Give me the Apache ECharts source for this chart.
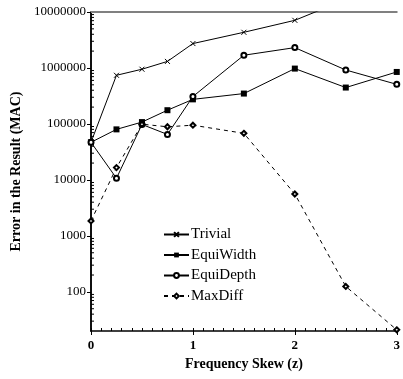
<!DOCTYPE html>
<html>
<head>
<meta charset="utf-8">
<script src="https://cdn.jsdelivr.net/npm/echarts@6/dist/echarts.min.js"></script>
<style>
html,body{margin:0;padding:0;background:#fff;}
#chart{width:403px;height:379px;}
</style>
</head>
<body>
<div id="chart"></div>
<script>
const skew = [0, 0.25, 0.5, 0.75, 1, 1.5, 2, 2.5, 3];
const trivial   = [47000, 740000, 950000, 1310000, 2730000, 4340000, 7100000, 16700000, 30000000];
const equiWidth = [47000, 80000, 108000, 176000, 275000, 349000, 975000, 447000, 849000];
const equiDepth = [47000, 10700, 98000, 65000, 309000, 1690000, 2310000, 920000, 510000];
const maxDiff   = [1850, 16600, 99000, 89000, 95000, 68000, 5600, 125, 21];
const xTicks = [0, 1, 2, 3];
const yMin = 20, yMax = 10000000;
const minorMultipliers = [2, 3, 4, 5, 6, 7, 8, 9];
const decades = [10, 100, 1000, 10000, 100000, 1000000];

const minorVals = [];
decades.forEach(d => minorMultipliers.forEach(m => {
  const v = d * m;
  if (v > yMin && v < yMax) minorVals.push([0, v]);
}));

const font = '"Liberation Serif", "DejaVu Serif", serif';
const pair = arr => skew.map((x, i) => [x, arr[i]]);

const chart = echarts.init(document.getElementById('chart'), null, {renderer: 'canvas'});
chart.setOption({
  animation: false,
  backgroundColor: '#fff',
  textStyle: {fontFamily: font, color: '#000'},
  grid: {left: 91, right: 4, top: 12, bottom: 48},
  legend: {
    data: ['Trivial', 'EquiWidth', 'EquiDepth', 'MaxDiff'],
    orient: 'vertical',
    left: 163, top: 227, padding: 0,
    itemWidth: 25, itemHeight: 6, itemGap: 5.5,
    textStyle: {fontFamily: font, fontSize: 15, color: '#000', padding: [0, 0, 0, -3]}
  },
  xAxis: [{
    type: 'value', min: 0, max: 3, interval: 1,
    name: 'Frequency Skew (z)', nameLocation: 'middle', nameGap: 25,
    nameTextStyle: {fontFamily: font, fontWeight: 'bold', fontSize: 14, color: '#000'},
    axisLine: {lineStyle: {color: '#000', width: 1.5}},
    axisTick: {show: true, length: 4, lineStyle: {color: '#000'}},
    axisLabel: {fontFamily: font, fontWeight: 'bold', fontSize: 13, color: '#000', margin: 8,
      formatter: v => xTicks.includes(v) ? String(v) : ''},
    splitLine: {show: false}
  }, {
    type: 'value', min: 0, max: 3, interval: 0.1, position: 'bottom',
    axisLine: {show: false},
    axisTick: {show: true, inside: true, length: 3, lineStyle: {color: '#000'}},
    axisLabel: {show: false}, splitLine: {show: false}
  }, {
    type: 'value', min: 0, max: 3, position: 'top',
    axisLine: {show: true, lineStyle: {color: '#808080', width: 2}},
    axisTick: {show: false}, axisLabel: {show: false}, splitLine: {show: false}
  }],
  yAxis: [{
    type: 'log', logBase: 10, min: yMin, max: yMax,
    name: 'Error in the Result (MAC)', nameLocation: 'middle', nameGap: 67, nameRotate: 90,
    nameTextStyle: {fontFamily: font, fontWeight: 'bold', fontSize: 14, color: '#000'},
    axisLine: {show: true, lineStyle: {color: '#000', width: 1.5}},
    axisTick: {show: true, length: 4, lineStyle: {color: '#000'}},
    axisLabel: {fontFamily: font, fontSize: 13, color: '#000', margin: 5, showMinLabel: false,
      formatter: v => String(Math.round(v))},
    splitLine: {show: false}
  }, {
    type: 'value', min: 0, max: 1, position: 'right',
    axisLine: {show: true, lineStyle: {color: '#000', width: 1.5}},
    axisTick: {show: false}, axisLabel: {show: false}, splitLine: {show: false}
  }],
  series: [{
    name: 'Trivial', type: 'line', data: pair(trivial), clip: true,
    symbol: 'path://M0,0L10,10M10,0L0,10', symbolSize: 5,
    itemStyle: {color: '#000', borderColor: '#000', borderWidth: 1},
    lineStyle: {color: '#000', width: 1}
  }, {
    name: 'EquiWidth', type: 'line', data: pair(equiWidth), clip: true,
    symbol: 'rect', symbolSize: 6,
    itemStyle: {color: '#000'},
    lineStyle: {color: '#000', width: 1}
  }, {
    name: 'EquiDepth', type: 'line', data: pair(equiDepth), clip: true,
    symbol: 'emptyCircle', symbolSize: 5,
    itemStyle: {color: '#000', borderColor: '#000', borderWidth: 1},
    lineStyle: {color: '#000', width: 1}
  }, {
    name: 'MaxDiff', type: 'line', data: pair(maxDiff), clip: true,
    symbol: 'emptyDiamond', symbolSize: 5,
    itemStyle: {color: '#000', borderColor: '#000', borderWidth: 1},
    lineStyle: {color: '#000', width: 1, type: [4, 4]}
  }, {
    name: 'minorY', type: 'custom', data: minorVals, silent: true, clip: false,
    renderItem: (params, api) => {
      const p = api.coord([0, api.value(1)]);
      return {type: 'line', shape: {x1: p[0], y1: p[1], x2: p[0] + 3, y2: p[1]},
        style: {stroke: '#000', lineWidth: 1}};
    }
  }]
});
</script>
</body>
</html>
